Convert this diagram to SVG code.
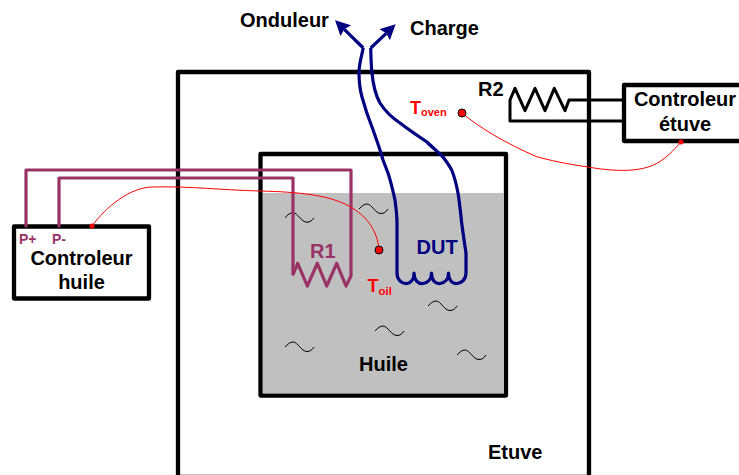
<svg xmlns="http://www.w3.org/2000/svg" width="739" height="475" viewBox="0 0 739 475">
<style>
text{font-family:"Liberation Sans",Arial,sans-serif;font-weight:bold}
.lbl{font-size:20px;fill:#000}
.ctr{text-anchor:middle}
.box{fill:#fff;stroke:#000;stroke-width:4.300;stroke-linejoin:round}
.pur{fill:none;stroke:#993366;stroke-width:3.200;stroke-linejoin:round;stroke-linecap:round}
.blu{fill:none;stroke:#000080;stroke-width:3.200;stroke-linejoin:round}
.red{fill:none;stroke:#ff0000;stroke-width:1}
.wav{fill:none;stroke:#000;stroke-width:1}
.blk{fill:none;stroke:#000;stroke-width:3;stroke-linejoin:round}
.rt{fill:#ff0000}
</style>
<defs>
<marker id="ah" markerUnits="userSpaceOnUse" markerWidth="18" markerHeight="16" refX="2" refY="8" orient="auto"><path d="M0 0.500L15 8L0 15.500L2 8Z" fill="#000080"/></marker>
<path id="w" d="M0 5C3 2 5 0 8 0C13 0 16 9.500 22 9.500C25 9.500 27 8 29 5" class="wav"/>
</defs>
<g id="etuve"><rect x="178" y="72" width="411" height="405" class="box"/><text x="488" y="459" class="lbl">Etuve</text></g>
<g id="huile"><rect x="260.500" y="154" width="245.500" height="241.500" class="box"/><rect x="263" y="193" width="241" height="200.500" fill="#c0c0c0"/><text x="359" y="371" class="lbl">Huile</text>
<use href="#w" x="285" y="212.700"/><use href="#w" x="359" y="204"/><use href="#w" x="428" y="301"/><use href="#w" x="375" y="326"/><use href="#w" x="285" y="342"/><use href="#w" x="457" y="350"/></g>
<g id="controleur-huile"><rect x="14" y="226.500" width="135" height="72" class="box"/><text x="81.500" y="265" class="lbl ctr">Controleur</text><text x="81.500" y="289" class="lbl ctr">huile</text><text x="19" y="244" font-size="14" fill="#993366">P+</text><text x="52" y="244" font-size="14" fill="#993366">P-</text></g>
<g id="controleur-etuve"><rect x="624" y="85" width="118" height="56" class="box"/><text x="685" y="106" class="lbl ctr">Controleur</text><text x="685" y="131" class="lbl ctr">étuve</text></g>
<g id="connectors">
<path d="M26 226V170H351V276L346 286L336.700 263.300L326.700 286L317.300 263.300L307.300 286L297.700 263.300L293.300 274" class="pur"/>
<path d="M59 226V178H293V274" class="pur"/>
<path d="M363.300 48L344.300 29.300" class="blu" marker-end="url(#ah)"/>
<path d="M370.700 48L386.200 33.300" class="blu" marker-end="url(#ah)"/>
<path d="M363.300 48C361 58 359 65 359 72C359 82 360 90 362 97C365 108 368 117 372 127C376 138 380 149 383 160C385 165 386 168 388 173C391 182 393 191 395 200C396 208 397 215 397 223V273C397 280 402 284 407 283.500C411 283 414 279 414 273C414 280 418 284 423 283.500C428 283 431.500 279 431.500 273C431.500 280 435 284 440 283.500C445 283 448.500 279 448.500 273C448.500 280 452 284 457 283.500C462 283 466 279 466 273V253C464.500 243 463 233 461.700 223C460.500 212 459.500 202 458 193C456.500 185 454.500 177 451.700 170C449 165 446 161 443 157C438 152 432 147 427 142C418 136 409 130 400 123C391 117 385 111 380 103C375 94 373 84 372 73C371 64 371 56 370.700 48" class="blu"/>
<path d="M92 226C106 207 130 187 153 187C190 186 220 190 260 191C300 192 325 195 345 204C365 214 377 228 379 250" class="red"/>
<path d="M462 113C480 128 505 143 536.700 156.700C560 163 575 165 588 167C605 170 620 171 632 170C655 168 665 160 681 142" class="red"/>
<path d="M625 100H569L565 110.700L554.300 88.300L545 110.700L535 88.300L525 110.700L515 88.300L510 100V121H625" class="blk"/>
<circle cx="92" cy="226" r="2.500" class="rt"/><circle cx="681" cy="142" r="2.500" class="rt"/>
<circle cx="379" cy="250" r="4" fill="#ff0000" stroke="#000" stroke-width="1"/><circle cx="462" cy="113" r="4" fill="#ff0000" stroke="#000" stroke-width="1"/>
</g>
<g id="labels">
<text x="240" y="27" class="lbl">Onduleur</text>
<text x="410" y="35" class="lbl">Charge</text>
<text x="478" y="95.500" class="lbl">R2</text>
<text x="310" y="258" class="lbl" style="fill:#993366">R1</text>
<text x="416.500" y="254" class="lbl" style="fill:#000080">DUT</text>
<text x="367.500" y="292" font-size="18" fill="#ff0000">T<tspan font-size="11.500" dy="2.500">oil</tspan></text>
<text x="410" y="114" font-size="18" fill="#ff0000">T<tspan font-size="11" dy="2">oven</tspan></text>
</g>
</svg>
